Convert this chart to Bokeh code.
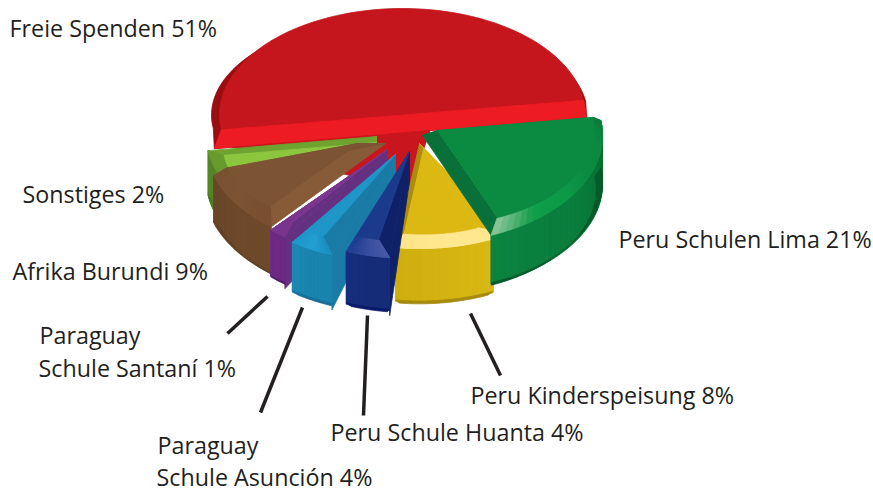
import math
from bokeh.plotting import figure
from bokeh.models import Range1d, ColumnDataSource
from bokeh.core.properties import value
from bokeh.embed import file_html
from bokeh.resources import INLINE

slice_names = ["Peru Schulen Lima", "Peru Kinderspeisung", "Peru Schule Huanta",
               "Paraguay Schule Asuncion", "Paraguay Schule Santani", "Afrika Burundi", "Sonstiges", "Freie Spenden"]
drawn_shares = [21.0, 8.0, 4.0, 4.0, 1.6, 8.8, 2.6, 50.0]
label_texts = ["Freie Spenden 51%", "Sonstiges 2%", "Afrika Burundi 9%", "Paraguay", "Schule Santaní 1%",
               "Paraguay", "Schule Asunción 4%", "Peru Schule Huanta 4%", "Peru Kinderspeisung 8%",
               "Peru Schulen Lima 21%"]

# ---- layout
label_x = [9, 22, 12, 39, 38, 157, 156, 330, 470, 618]
label_y = [27, 193, 270, 334, 367, 444, 476, 431, 394, 238]
leader_x0 = [267, 302, 367, 470]
leader_y0 = [296, 307, 315, 313]
leader_x1 = [227, 260, 363, 500]
leader_y1 = [333, 412, 415, 375]
K = 0.6
START = -8.0
CENTER = (400.0, 114.5)

styles = {
    "Peru Schulen Lima": dict(A=(422, 135), R=180, F=(437, 130), Rf=157, ia0=0, ia1=0, d=54, ext0=0, ext1=0, wt=0,
        bev0="#0a7d3c", bev1="#087038", face="#0b8a41",
        ring=["#0a7a3a", "#0b8a41", "#0b8a41", "#0d9a48", "#109e4a", "#8fc79a"],
        wall=["#06672f", "#077236", "#0a7d3c", "#0a7f3e", "#0b843f"], lip="#055a2a", rw=False),
    "Peru Kinderspeisung": dict(A=(419, 143), R=175, F=(423, 149), Rf=141, ia0=8, ia1=0, d=59, ext0=8, ext1=1.5, wt=5.5,
        bev0="#dcb912", bev1="#ab8c0c", face="#dcb912",
        ring=["#fde68c", "#ffe890", "#ffe488"],
        wall=["#d9b814", "#d4b311", "#cfae10"], lip="#a68a0e", rw=False),
    "Sonstiges": dict(A=(376, 136), R=170, F=(376, 142), Rf=154, ia0=0, ia1=0, d=50, ext0=6, ext1=0, wt=0,
        bev0="#8cc63f", bev1="#6ea32f", face="#8cc63f",
        ring=["#6a9a30", "#6a9a30"], wall=["#55872a", "#55872a"], lip="#4c7a26", rw=False),
    "Afrika Burundi": dict(A=(385, 143), R=180, F=(357, 143), Rf=137, ia0=0, ia1=0, d=52, ext0=1.5, ext1=0, wt=0,
        bev0="#875b38", bev1="#7c5434", face="#7c5434",
        ring=["#78502f", "#7c5434", "#7a5232"],
        wall=["#6e4a2c", "#6e4a2c", "#6a472b"], lip="#61412a", rw=False),
    "Paraguay Schule Santani": dict(A=(387, 149), R=178, F=(387, 149), Rf=152, ia0=3, ia1=0, d=52, ext0=0, ext1=0, wt=0,
        bev0="#64307f", bev1="#7a368e", face="#7a368e",
        ring=["#7a368e", "#7a368e"], wall=["#6d2c85", "#6d2c85"], lip="#52206a", rw=True),
    "Paraguay Schule Asuncion": dict(A=(395, 154), R=179, F=(395, 154), Rf=155, ia0=7, ia1=1, d=55, ext0=0, ext1=0, wt=0,
        bev0="#1a7ba6", bev1="#1e96c8", face="#1e96c8",
        ring=["#1b8cbc", "#22a0d2", "#1e96c8"], wall=["#1b84ae", "#1b84ae", "#1d8ab4"], lip="#176f97", rw=True),
    "Peru Schule Huanta": dict(A=(409, 151), R=178, F=(409, 151), Rf=150, ia0=5.5, ia1=1, d=58, ext0=0, ext1=0, wt=0,
        bev0="#0f2269", bev1="#1b3a8c", face="#1b3a8c",
        ring=["#4a5aa8", "#3a4fa0", "#1f3c90"], wall=["#162d7a", "#162d7a", "#182f7e"], lip="#0a1a6a", rw=True),
}
draw_order = ["Peru Kinderspeisung", "Peru Schulen Lima", "Sonstiges", "Afrika Burundi",
              "Paraguay Schule Santani", "Paraguay Schule Asuncion", "Peru Schule Huanta"]

# ---- geometry helpers
def pt(c, r, deg):
    t = math.radians(deg)
    return (c[0] + r * math.cos(t), c[1] + K * r * math.sin(t))

def down(q, d):
    return (q[0], q[1] + d)

def lerp_colour(stops, f):
    pos = f * (len(stops) - 1)
    i = min(int(pos), len(stops) - 2)
    u = pos - i
    a = [int(stops[i][j:j + 2], 16) for j in (1, 3, 5)]
    b = [int(stops[i + 1][j:j + 2], 16) for j in (1, 3, 5)]
    return "#%02x%02x%02x" % tuple(round(x + (y - x) * u) for x, y in zip(a, b))

def arc(c, r, a, b, n=48):
    return [pt(c, r, a + (b - a) * i / n) for i in range(n + 1)]

polys, cols = [], []
def add(points, colour):
    polys.append(points)
    cols.append(colour)

# ---- angles from the shares, clockwise on screen
total = sum(drawn_shares)
angles = {}
cur = START
for name, share in zip(slice_names, drawn_shares):
    angles[name] = (cur, cur + 360.0 * share / total)
    cur += 360.0 * share / total

# ---- large back slice
r0, r1 = angles["Freie Spenden"]
steps = [r0 + (r1 - r0) * i / 96 for i in range(97)]
def ell(cx, rx, ry, t):
    return (cx + rx * math.cos(math.radians(t)), CENTER[1] + ry * math.sin(math.radians(t)))
add([ell(CENTER[0] - 1, 188, 98, t) for t in steps] + [down(pt(CENTER, 188, r1), 18), down(pt(CENTER, 188, r0), 18)], "#9a0d10")
add([ell(CENTER[0] + 2, 183, 106.5, t) for t in steps], "#c4161c")
add([ell(CENTER[0] + 2, 183, 106.5, r0), ell(CENTER[0] + 2, 183, 106.5, r1),
     down(pt(CENTER, 188, r1), 18), down(pt(CENTER, 188, r0), 18)], "#ed1c24")
add([down(pt(CENTER, 170, r0), 18), down(pt(CENTER, 30, r1), 18), pt(CENTER, 125, 86)], "#c9151d")

# ---- exploded slices
for name in draw_order:
    s = styles[name]
    a0, a1 = angles[name]
    a0 -= s["ext0"]
    a1 += s["ext1"]
    A, R, F, Rf, d = s["A"], s["R"], s["F"], s["Rf"], s["d"]
    f0, f1 = a0 + s["ia0"], a1 - s["ia1"]
    w0 = a0 + s["wt"]
    if s["rw"]:
        add([A, pt(A, R, a0), down(pt(A, R, a0), d), down(A, 30)], s["bev0"])
    n = 30
    outer = arc(A, R, a0, a1)
    wall_top = arc(A, R, w0, a1)
    add(wall_top + [down(q, d - 5) for q in reversed(wall_top)], s["wall"][len(s["wall"]) // 2])
    for i in range(n):
        t0 = w0 + (a1 - w0) * i / n
        t1 = w0 + (a1 - w0) * (i + 1) / n
        c = lerp_colour(s["wall"], (i + 0.5) / n)
        add([pt(A, R, t0), pt(A, R, t1), down(pt(A, R, t1), d - 6), down(pt(A, R, t0), d - 6)], c)
    lip_top = [down(q, d - 6.5) for q in wall_top]
    lip_bot = [down(q, d) for q in arc(A, R * 0.965, a1 - 1, w0 + 1)]
    add(lip_top + lip_bot, s["lip"])
    add([A, pt(A, R, a0), pt(F, Rf, f0), F], s["bev0"])
    add([A, pt(A, R, a1), pt(F, Rf, f1), F], s["bev1"])
    add(outer + arc(F, Rf, f1, f0), s["ring"][len(s["ring"]) // 2])
    for i in range(n):
        u0, u1 = i / n, (i + 1) / n
        c = lerp_colour(s["ring"], (i + 0.5) / n)
        add([pt(A, R, a0 + (a1 - a0) * u0), pt(A, R, a0 + (a1 - a0) * u1),
             pt(F, Rf, f0 + (f1 - f0) * u1), pt(F, Rf, f0 + (f1 - f0) * u0)], c)
    add([F] + arc(F, Rf, f0, f1), s["face"])

p = figure(width=873, height=492, x_range=Range1d(0, 873), y_range=Range1d(492, 0),
           toolbar_location=None, output_backend="svg", min_border=0, outline_line_color=None,
           background_fill_color="white", border_fill_color="white")
p.axis.visible = False
p.grid.visible = False

src = ColumnDataSource(dict(xs=[[q[0] for q in poly] for poly in polys],
                            ys=[[q[1] for q in poly] for poly in polys], c=cols))
p.patches("xs", "ys", source=src, fill_color="c", line_color="c", line_width=0.8)

p.segment(leader_x0, leader_y0, leader_x1, leader_y1, line_color="#231f20", line_width=3.5)
p.text(label_x, label_y, text=label_texts, text_font=value("Open Sans"), text_font_size="23.3px",
       text_color="#231f20", text_baseline="middle", text_align="left")

open("out.html", "w").write(file_html(p, INLINE))
